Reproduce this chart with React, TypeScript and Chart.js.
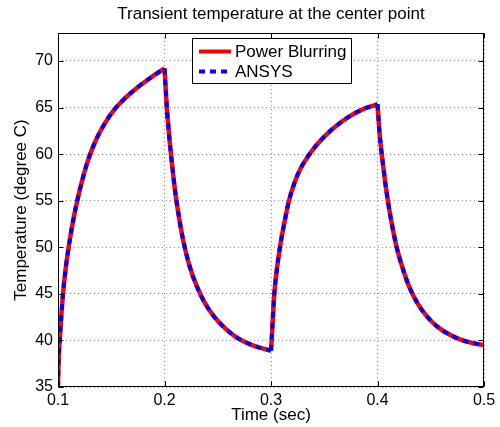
import React, { useEffect, useRef } from "react";
import { Chart, registerables } from "chart.js";

Chart.register(...registerables);

const FONT = '"Liberation Sans", Arial, Helvetica, sans-serif';

const chartTitle = "Transient temperature at the center point";
const xAxisLabel = "Time (sec)";
const yAxisLabel = "Temperature (degree C)";
const seriesNames = ["Power Blurring", "ANSYS"];
const seriesColors = ["#ff0000", "#0000ff"];

const xTicks = [0.1, 0.2, 0.3, 0.4, 0.5];
const yTicks = [35, 40, 45, 50, 55, 60, 65, 70];
const xRange = [0.1, 0.5];
const yRange = [35, 73];

// Each switching instant (0.2, 0.3, 0.4) appears twice: end of one phase, start of the next.
const timeSec = [
  0.1, 0.1005, 0.1016, 0.1031, 0.1047, 0.1072, 0.11, 0.1138, 0.1181, 0.123,
  0.129, 0.136, 0.144, 0.153, 0.163, 0.174, 0.187, 0.2,
  0.2, 0.2022, 0.2045, 0.207, 0.21, 0.2135, 0.218, 0.2235, 0.23, 0.238,
  0.247, 0.257, 0.268, 0.28, 0.29, 0.3,
  0.3, 0.3006, 0.3018, 0.3031, 0.3055, 0.3084, 0.3125, 0.3169, 0.322, 0.328,
  0.335, 0.343, 0.352, 0.362, 0.373, 0.386, 0.4,
  0.4, 0.4022, 0.4045, 0.407, 0.41, 0.4135, 0.418, 0.4235, 0.43, 0.438,
  0.447, 0.457, 0.468, 0.48, 0.49, 0.5,
];

const powerBlurring = [
  35.0, 37.6, 40.0, 42.6, 45.0, 47.7, 50.0, 52.6, 55.0, 57.3,
  59.6, 61.6, 63.3, 64.8, 66.0, 67.1, 68.2, 69.2,
  69.2, 65.0, 61.8, 59.0, 56.0, 53.3, 50.5, 48.0, 45.9, 44.0,
  42.5, 41.3, 40.3, 39.6, 39.2, 38.9,
  38.9, 40.0, 42.5, 45.0, 47.6, 50.0, 52.6, 55.0, 56.9, 58.5,
  59.8, 61.0, 62.1, 63.1, 64.0, 64.8, 65.35,
  65.35, 61.9, 59.5, 57.2, 54.8, 52.5, 50.0, 47.8, 45.7, 43.9,
  42.5, 41.4, 40.6, 40.0, 39.7, 39.5,
];

const ansys = [
  35.0, 37.6, 40.0, 42.6, 45.0, 47.7, 50.0, 52.6, 55.0, 57.3,
  59.6, 61.6, 63.3, 64.8, 66.0, 67.1, 68.2, 69.2,
  69.2, 65.0, 61.8, 59.0, 56.0, 53.3, 50.5, 48.0, 45.9, 44.0,
  42.5, 41.3, 40.3, 39.6, 39.2, 38.9,
  38.9, 40.0, 42.5, 45.0, 47.6, 50.0, 52.6, 55.0, 56.9, 58.5,
  59.8, 61.0, 62.1, 63.1, 64.0, 64.8, 65.35,
  65.35, 61.9, 59.5, 57.2, 54.8, 52.5, 50.0, 47.8, 45.7, 43.9,
  42.5, 41.4, 40.6, 40.0, 39.7, 39.5,
];

// A repeated time marks a new phase: a gap is inserted there so that each
// heating / cooling phase is interpolated on its own (sharp switching corners).
function buildPoints(values: number[]) {
  const pts: { x: number; y: number | null }[] = [];
  timeSec.forEach((t, i) => {
    if (i > 0 && timeSec[i - 1] === t) pts.push({ x: t, y: null });
    pts.push({ x: t, y: values[i] });
  });
  return pts;
}

const framePlugin = {
  id: "matlabFrame",
  afterDatasetsDraw(chart: any) {
    const { ctx, chartArea } = chart;
    const { left, right, top, bottom } = chartArea;
    const xs = chart.scales.x;
    const ys = chart.scales.y;
    ctx.save();
    ctx.strokeStyle = "#000";
    ctx.lineWidth = 1;
    ctx.setLineDash([]);
    const L = Math.round(left) + 0.5;
    const R = Math.round(right) - 0.5;
    const T = Math.round(top) + 0.5;
    const B = Math.round(bottom) - 0.5;
    ctx.strokeRect(L, T, R - L, B - T);
    ctx.beginPath();
    const tl = 5;
    xs.ticks.forEach((t: any) => {
      const px = Math.round(xs.getPixelForValue(t.value)) + 0.5;
      ctx.moveTo(px, B);
      ctx.lineTo(px, B - tl);
      ctx.moveTo(px, T);
      ctx.lineTo(px, T + tl);
    });
    ys.ticks.forEach((t: any) => {
      const py = Math.round(ys.getPixelForValue(t.value)) + 0.5;
      ctx.moveTo(L, py);
      ctx.lineTo(L + tl, py);
      ctx.moveTo(R, py);
      ctx.lineTo(R - tl, py);
    });
    ctx.stroke();
    ctx.restore();
  },
  afterDraw(chart: any) {
    const { ctx, chartArea } = chart;
    const datasets = chart.data.datasets;
    ctx.save();
    ctx.font = `17px ${FONT}`;
    const textW = Math.max(
      ...datasets.map((d: any) => ctx.measureText(d.label).width)
    );
    const padL = 6.5;
    const lineLen = 32;
    const gap = 4;
    const padR = 5;
    const rowH = 20;
    const boxW = padL + lineLen + gap + textW + padR;
    const boxH = 45;
    const cx = (chartArea.left + chartArea.right) / 2;
    const bx = Math.round(cx - boxW / 2) + 0.5;
    const by = Math.round(chartArea.top + 5) + 0.5;
    ctx.fillStyle = "#fff";
    ctx.fillRect(bx, by, boxW, boxH);
    ctx.strokeStyle = "#000";
    ctx.lineWidth = 1;
    ctx.setLineDash([]);
    ctx.strokeRect(bx, by, boxW, boxH);
    datasets.forEach((d: any, i: number) => {
      const ry = by + 13 + i * rowH;
      ctx.beginPath();
      ctx.strokeStyle = d.borderColor;
      ctx.lineWidth = 4;
      ctx.setLineDash(d.borderDash || []);
      ctx.moveTo(bx + padL, ry);
      ctx.lineTo(bx + padL + lineLen, ry);
      ctx.stroke();
      ctx.setLineDash([]);
      ctx.fillStyle = "#000";
      ctx.textBaseline = "middle";
      ctx.textAlign = "left";
      ctx.fillText(d.label, bx + padL + lineLen + gap, ry + 1);
    });
    ctx.restore();
  },
};

export default function App() {
  const canvasRef = useRef<HTMLCanvasElement | null>(null);

  useEffect(() => {
    const canvas = canvasRef.current;
    if (!canvas) return;
    const chart = new Chart(canvas, {
      type: "line",
      data: {
        datasets: [
          {
            label: seriesNames[0],
            data: buildPoints(powerBlurring),
            borderColor: seriesColors[0],
            backgroundColor: seriesColors[0],
            borderWidth: 4.5,
            pointRadius: 0,
            cubicInterpolationMode: "monotone",
            spanGaps: false,
            borderJoinStyle: "round",
            order: 1,
          },
          {
            label: seriesNames[1],
            data: buildPoints(ansys),
            borderColor: seriesColors[1],
            backgroundColor: seriesColors[1],
            borderWidth: 4,
            borderDash: [6, 5],
            pointRadius: 0,
            cubicInterpolationMode: "monotone",
            spanGaps: false,
            order: 0,
          },
        ],
      },
      options: {
        responsive: false,
        animation: false,
        devicePixelRatio: 1,
        layout: { padding: { left: 0, right: 16, top: 0, bottom: 0 } },
        plugins: {
          legend: { display: false },
          tooltip: { enabled: false },
          title: {
            display: true,
            text: chartTitle,
            fullSize: false,
            color: "#000",
            font: { family: FONT, size: 17, weight: "normal" },
            padding: { top: 4, bottom: 8.6 },
          },
        },
        scales: {
          x: {
            type: "linear",
            min: xRange[0],
            max: xRange[1],
            afterBuildTicks: (s: any) => {
              s.ticks = xTicks.map((v) => ({ value: v }));
            },
            afterFit: (s: any) => {
              s.height = 40;
            },
            ticks: {
              color: "#000",
              font: { family: FONT, size: 16 },
              padding: 4,
              maxRotation: 0,
              callback: (v: any) => Number(v).toFixed(1),
            },
            grid: { color: "#8c8c8c", lineWidth: 1, drawTicks: false },
            border: { display: false, dash: [1, 3] },
            title: {
              display: true,
              text: xAxisLabel,
              color: "#000",
              font: { family: FONT, size: 17 },
              padding: { top: 0, bottom: 1.3 },
            },
          },
          y: {
            type: "linear",
            min: yRange[0],
            max: yRange[1],
            afterBuildTicks: (s: any) => {
              s.ticks = yTicks.map((v) => ({ value: v }));
            },
            afterFit: (s: any) => {
              s.width = 58;
            },
            ticks: {
              color: "#000",
              font: { family: FONT, size: 16 },
              padding: 5,
              callback: (v: any) => String(v),
            },
            grid: { color: "#8c8c8c", lineWidth: 1, drawTicks: false },
            border: { display: false, dash: [1, 3] },
            title: {
              display: true,
              text: yAxisLabel,
              color: "#000",
              font: { family: FONT, size: 17 },
              padding: { top: 11, bottom: 0 },
            },
          },
        },
      },
      plugins: [framePlugin],
    } as any);
    return () => chart.destroy();
  }, []);

  return (
    <div style={{ position: "fixed", left: 0, top: 0, width: 500, height: 427, background: "#fff" }}>
      <canvas ref={canvasRef} width={500} height={427} style={{ width: 500, height: 427, display: "block" }} />
    </div>
  );
}
